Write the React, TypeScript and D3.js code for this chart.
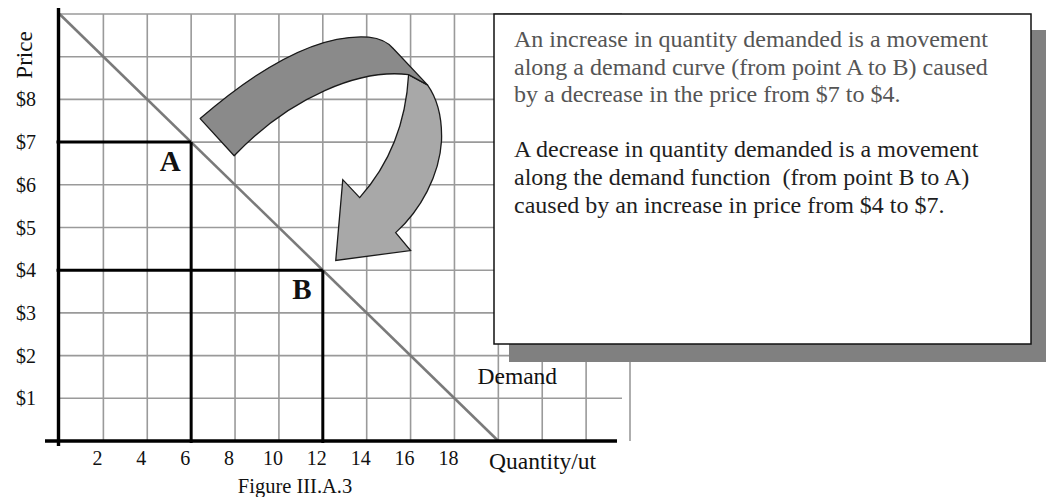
import React from "react";
import * as d3 from "d3";

// ---- data ----
const priceTicks = [1, 2, 3, 4, 5, 6, 7, 8];
const priceLabels = ["$1", "$2", "$3", "$4", "$5", "$6", "$7", "$8"];
const qtyTicks = [2, 4, 6, 8, 10, 12, 14, 16, 18];
const qtyLabels = ["2", "4", "6", "8", "10", "12", "14", "16", "18"];
const gridQ = [2, 4, 6, 8, 10, 12, 14, 16, 18, 20, 22, 24, 26];
const gridP = [1, 2, 3, 4, 5, 6, 7, 8, 9, 10];
const demandCurve = [
  { q: 0, p: 10 },
  { q: 20, p: 0 },
];
const points = [
  { label: "A", q: 6, p: 7 },
  { label: "B", q: 12, p: 4 },
];
const demandLabel = { text: "Demand", q: 19.05, p: 1.33 };
// curved arrow (data units)
const arrowDark: (string | number)[][] = [
  ["M", 6.41, 7.55],
  ["C", 8.5, 8.48, 11.46, 9.56, 14.09, 9.46],
  ["Q", 14.86, 9.42, 15.23, 9.18],
  ["L", 16.77, 8.34],
  ["L", 15.91, 8.58],
  ["C", 13.73, 8.72, 10.55, 8.08, 7.96, 6.68],
  ["Z"],
];
const arrowLight: (string | number)[][] = [
  ["M", 16.77, 8.34],
  ["C", 17.18, 8.04, 17.45, 7.62, 17.41, 7.03],
  ["C", 17.32, 6.22, 16.45, 5.4, 15.32, 4.88],
  ["L", 16.0, 4.46],
  ["L", 12.59, 4.23],
  ["L", 12.91, 6.12],
  ["L", 13.68, 5.7],
  ["C", 14.86, 6.38, 15.77, 7.27, 15.91, 8.58],
  ["Z"],
];
const boxPara1 = [
  "An increase in quantity demanded is a movement",
  "along a demand curve (from point A to B) caused",
  "by a decrease in the price from $7 to $4.",
];
const boxPara2 = [
  "A decrease in quantity demanded is a movement",
  "along the demand function  (from point B to A)",
  "caused by an increase in price from $4 to $7.",
];
const caption = "Figure III.A.3";
const xTitle = "Quantity/ut";
const yTitle = "Price";

const W = 1048;
const H = 497;
const FONT = "'Liberation Serif', 'Times New Roman', serif";

export default function App() {
  const x = d3.scaleLinear().domain([0, 26]).range([59.5, 630]);
  const y = d3.scaleLinear().domain([0, 10]).range([441, 14]);

  const toPath = (cmds: (string | number)[][]) => {
    const p = d3.path();
    for (const c of cmds) {
      const k = c[0];
      const v = c.slice(1) as number[];
      if (k === "M") p.moveTo(x(v[0]), y(v[1]));
      else if (k === "L") p.lineTo(x(v[0]), y(v[1]));
      else if (k === "Q") p.quadraticCurveTo(x(v[0]), y(v[1]), x(v[2]), y(v[3]));
      else if (k === "C")
        p.bezierCurveTo(x(v[0]), y(v[1]), x(v[2]), y(v[3]), x(v[4]), y(v[5]));
      else if (k === "Z") p.closePath();
    }
    return p.toString();
  };

  const demandLine = d3
    .line<{ q: number; p: number }>()
    .x((d) => x(d.q))
    .y((d) => y(d.p))(demandCurve) as string;

  const gridRight = 622;
  const boxX = 494,
    boxY = 14,
    boxW = 537,
    boxH = 330;

  return (
    <svg
      width={W}
      height={H}
      style={{ position: "absolute", left: 0, top: 0, display: "block", background: "#fff" }}
      fontFamily={FONT}
    >
      {/* grid */}
      <g stroke="#9a9a9a" strokeWidth={1.6}>
        {gridQ.map((q) => (
          <line key={"v" + q} x1={x(q)} x2={x(q)} y1={y(10)} y2={y(0)} />
        ))}
        {gridP.map((p) => (
          <line key={"h" + p} x1={x(0)} x2={gridRight} y1={y(p)} y2={y(p)} />
        ))}
      </g>

      {/* demand */}
      <path d={demandLine} stroke="#7a7a7a" strokeWidth={2.6} fill="none" />

      {/* A/B guide lines */}
      <g stroke="#000" strokeWidth={3} fill="none">
        {points.map((d) => (
          <g key={d.label}>
            <line x1={x(0) - 3} x2={x(d.q)} y1={y(d.p)} y2={y(d.p)} />
            <line x1={x(d.q)} x2={x(d.q)} y1={y(d.p)} y2={y(0) + 2} />
          </g>
        ))}
      </g>

      {/* axes */}
      <line x1={x(0) - 1} x2={x(0) - 1} y1={8} y2={446} stroke="#000" strokeWidth={3.4} />
      <line x1={45} x2={617} y1={y(0)} y2={y(0)} stroke="#000" strokeWidth={3.6} />

      {/* point labels */}
      {points.map((d) => (
        <text
          key={"t" + d.label}
          x={x(d.q) - 21}
          y={y(d.p) + 28.5}
          textAnchor="middle"
          fontSize={29}
          fontWeight="bold"
          fill="#111"
        >
          {d.label}
        </text>
      ))}

      {/* curved arrow */}
      <path d={toPath(arrowLight)} fill="#a8a8a8" stroke="#1a1a1a" strokeWidth={1.3} strokeLinejoin="miter" />
      <path d={toPath(arrowDark)} fill="#8a8a8a" stroke="#1a1a1a" strokeWidth={1.3} strokeLinejoin="round" />

      {/* y tick labels */}
      {priceTicks.map((p, i) => (
        <text key={"yl" + p} x={36} y={y(p)} dy="0.35em" textAnchor="end" fontSize={20} fill="#111">
          {priceLabels[i]}
        </text>
      ))}
      {/* x tick labels */}
      {qtyTicks.map((q, i) => (
        <text key={"xl" + q} x={x(q) - 6} y={465} textAnchor="middle" fontSize={20} fill="#111">
          {qtyLabels[i]}
        </text>
      ))}

      {/* titles */}
      <text transform={`translate(32,55) rotate(-90)`} textAnchor="middle" fontSize={23} fill="#111">
        {yTitle}
      </text>
      <text x={489} y={469} fontSize={23.5} fill="#111">
        {xTitle}
      </text>
      <text x={295} y={493} textAnchor="middle" fontSize={20.5} fill="#111">
        {caption}
      </text>

      {/* text box with shadow */}
      <rect x={boxX + 15} y={boxY + 16} width={boxW} height={boxH + 2} fill="#808080" />
      <rect x={boxX} y={boxY} width={boxW} height={boxH} fill="#fff" stroke="#111" strokeWidth={1.5} />
      {boxPara1.map((t, i) => (
        <text key={"p1" + i} x={514} y={47 + i * 27.5} fontSize={24} fill="#555" xmlSpace="preserve" style={{ whiteSpace: "pre" }}>
          {t}
        </text>
      ))}
      {boxPara2.map((t, i) => (
        <text key={"p2" + i} x={514} y={157 + i * 28} fontSize={24} fill="#1e1e1e" xmlSpace="preserve" style={{ whiteSpace: "pre" }}>
          {t}
        </text>
      ))}

      {/* demand label */}
      <text x={x(demandLabel.q)} y={y(demandLabel.p)} fontSize={23.5} fill="#111">
        {demandLabel.text}
      </text>
    </svg>
  );
}
